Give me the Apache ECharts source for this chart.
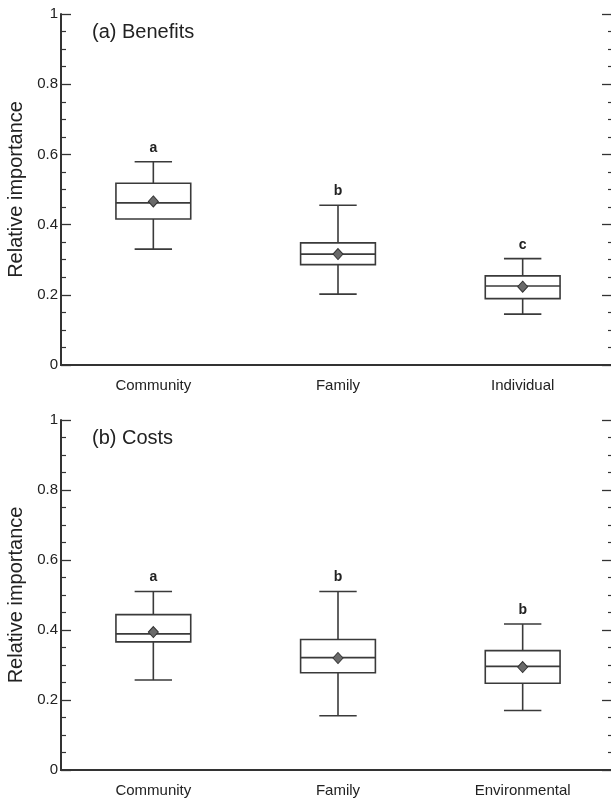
<!DOCTYPE html>
<html>
<head>
<meta charset="utf-8">
<script src="https://cdn.jsdelivr.net/npm/echarts@6/dist/echarts.min.js"></script>
<style>html,body{margin:0;padding:0;background:#fff}#c{width:611px;height:799px}</style>
</head>
<body>
<div id="c"></div>
<script>
// ---- data ----
const categoriesA = ['Community', 'Family', 'Individual'];
// [min, Q1, median, Q3, max]
const boxA = [
  [0.330, 0.416, 0.462, 0.518, 0.579],
  [0.202, 0.286, 0.316, 0.348, 0.455],
  [0.145, 0.189, 0.225, 0.254, 0.303]
];
const meanA = [0.466, 0.316, 0.223];
const lettersA = ['a', 'b', 'c'];

const categoriesB = ['Community', 'Family', 'Environmental'];
const boxB = [
  [0.257, 0.366, 0.389, 0.444, 0.510],
  [0.155, 0.278, 0.321, 0.373, 0.510],
  [0.170, 0.248, 0.296, 0.341, 0.417]
];
const meanB = [0.394, 0.320, 0.294];
const lettersB = ['a', 'b', 'b'];

const yTicks = [0, 0.2, 0.4, 0.6, 0.8, 1];
const titleA = '(a) Benefits';
const titleB = '(b) Costs';
const yName = 'Relative importance';

// ---- styles ----
const FONT = '"Liberation Sans", Arial, sans-serif';
const LINE = '#3a3a3a';
const AXIS = '#333';

function makeRender(letters) {
  return function (params, api) {
    const i = api.value(0);
    const lo = api.coord([i, api.value(1)]);
    const q1 = api.coord([i, api.value(2)]);
    const med = api.coord([i, api.value(3)]);
    const q3 = api.coord([i, api.value(4)]);
    const hi = api.coord([i, api.value(5)]);
    const band = api.size([1, 0])[0];
    const bw = band * 0.405;
    const cw = bw / 2;
    const cx = lo[0];
    const st = { stroke: LINE, lineWidth: 1.6, fill: null };
    return {
      type: 'group',
      children: [
        { type: 'line', shape: { x1: cx, y1: hi[1], x2: cx, y2: q3[1] }, style: st },
        { type: 'line', shape: { x1: cx, y1: q1[1], x2: cx, y2: lo[1] }, style: st },
        { type: 'line', shape: { x1: cx - cw / 2, y1: hi[1], x2: cx + cw / 2, y2: hi[1] }, style: st },
        { type: 'line', shape: { x1: cx - cw / 2, y1: lo[1], x2: cx + cw / 2, y2: lo[1] }, style: st },
        { type: 'rect', shape: { x: cx - bw / 2, y: q3[1], width: bw, height: q1[1] - q3[1] },
          style: { fill: '#fff', stroke: LINE, lineWidth: 1.6 } },
        { type: 'line', shape: { x1: cx - bw / 2, y1: med[1], x2: cx + bw / 2, y2: med[1] }, style: st },
        { type: 'text', x: cx, y: hi[1] - 7,
          style: { text: letters[params.dataIndex], align: 'center', verticalAlign: 'bottom',
                   font: 'bold 14px ' + FONT, fill: '#222' } }
      ]
    };
  };
}

function gridAxes(idx, cats) {
  return {
    x: [
      { type: 'category', gridIndex: idx, data: cats, boundaryGap: true,
        axisLine: { lineStyle: { color: AXIS, width: 2 } },
        axisTick: { show: false },
        axisLabel: { fontFamily: FONT, fontSize: 15, color: '#222', margin: 13 } },
      { type: 'category', gridIndex: idx, data: cats, position: 'top',
        axisLine: { lineStyle: { color: AXIS, width: 2 } },
        axisTick: { show: false }, axisLabel: { show: false } }
    ],
    y: [
      { type: 'value', gridIndex: idx, min: 0, max: 1, interval: 0.2, position: 'left',
        name: yName, nameLocation: 'middle', nameGap: 30,
        nameTextStyle: { fontFamily: FONT, fontSize: 20, color: '#222' },
        axisLine: { show: true, lineStyle: { color: AXIS, width: 2 } },
        axisTick: { show: true, inside: true, length: 10, lineStyle: { color: AXIS, width: 1.3 } },
        minorTick: { show: true, splitNumber: 4, length: 5, lineStyle: { color: AXIS, width: 1.2 } },
        splitLine: { show: false },
        axisLabel: { fontFamily: FONT, fontSize: 15, color: '#222', margin: 3,
          formatter: v => { const t = yTicks.find(k => Math.abs(k - v) < 1e-9); return t === undefined ? '' : String(t); } } },
      { type: 'value', gridIndex: idx, min: 0, max: 1, interval: 0.2, position: 'right',
        axisLine: { show: true, lineStyle: { color: AXIS, width: 2 } },
        axisTick: { show: true, inside: true, length: 13, lineStyle: { color: AXIS, width: 1.3 } },
        minorTick: { show: true, splitNumber: 4, length: 7, lineStyle: { color: AXIS, width: 1.2 } },
        splitLine: { show: false }, axisLabel: { show: false } }
    ]
  };
}

const gA = gridAxes(0, categoriesA);
const gB = gridAxes(1, categoriesB);

const option = {
  animation: false,
  backgroundColor: '#fff',
  title: [
    { text: titleA, left: 87, top: 17, textStyle: { fontFamily: FONT, fontSize: 20, fontWeight: 'normal', color: '#222' } },
    { text: titleB, left: 87, top: 423, textStyle: { fontFamily: FONT, fontSize: 20, fontWeight: 'normal', color: '#222' } }
  ],
  grid: [
    { left: 61, right: -4, top: 14, height: 351, containLabel: false, outerBoundsMode: 'none' },
    { left: 61, right: -4, top: 420, height: 350, containLabel: false, outerBoundsMode: 'none' }
  ],
  xAxis: [...gA.x, ...gB.x],
  yAxis: [...gA.y, ...gB.y],
  series: [
    { type: 'custom', xAxisIndex: 0, yAxisIndex: 0, renderItem: makeRender(lettersA),
      encode: { x: 0, y: [1, 2, 3, 4, 5] },
      data: boxA.map((b, i) => [i, ...b]), z: 2 },
    { type: 'scatter', xAxisIndex: 0, yAxisIndex: 0, symbol: 'diamond', symbolSize: [10, 11],
      itemStyle: { color: '#6a6a6a', borderColor: '#333', borderWidth: 1, opacity: 1 },
      data: meanA.map((m, i) => [i, m]), z: 5 },
    { type: 'custom', xAxisIndex: 2, yAxisIndex: 2, renderItem: makeRender(lettersB),
      encode: { x: 0, y: [1, 2, 3, 4, 5] },
      data: boxB.map((b, i) => [i, ...b]), z: 2 },
    { type: 'scatter', xAxisIndex: 2, yAxisIndex: 2, symbol: 'diamond', symbolSize: [10, 11],
      itemStyle: { color: '#6a6a6a', borderColor: '#333', borderWidth: 1, opacity: 1 },
      data: meanB.map((m, i) => [i, m]), z: 5 }
  ]
};

const chart = echarts.init(document.getElementById('c'), null, { renderer: 'canvas' });
chart.setOption(option);
</script>
</body>
</html>
